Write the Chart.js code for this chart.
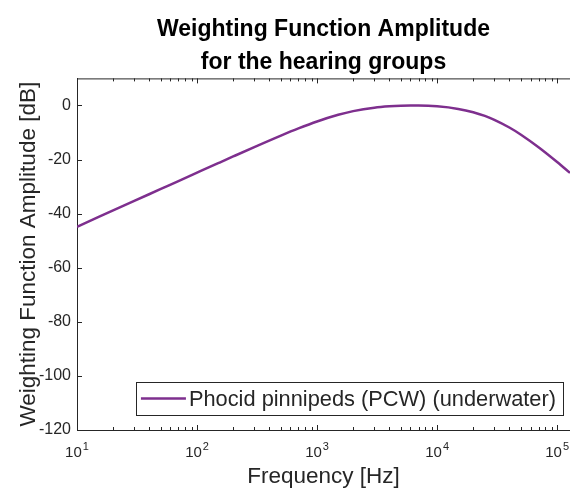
<!DOCTYPE html>
<html>
<head>
<meta charset="utf-8">
<script src="https://cdn.jsdelivr.net/npm/chart.js@4"></script>
<style>
  html, body { margin: 0; padding: 0; background: #fff; overflow: hidden; }
  #wrap { width: 570px; height: 490px; }
</style>
</head>
<body>
<div id="wrap"><canvas id="chart" width="570" height="490"></canvas></div>
<script>
// values (frequency in Hz, amplitude in dB)
const freqs = [10, 15, 20, 30, 50, 70, 100, 150, 200, 300, 500, 700, 1000, 1500, 2000,
  3000, 4000, 5000, 6000, 7000, 10000, 15000, 20000, 25000, 30000, 40000, 50000, 70000, 100000, 128000];
const amplitude = [-44.85, -41.32, -38.82, -35.30, -30.87, -27.95, -24.86, -21.35, -18.87, -15.41,
  -11.16, -8.50, -5.92, -3.45, -2.10, -0.82, -0.31, -0.09, -0.03, -0.04, -0.34, -1.28, -2.50, -3.88,
  -5.31, -8.15, -10.82, -15.46, -20.93, -24.94];
const xTicks = [10, 100, 1000, 10000, 100000];
const xTickExponents = ['1', '2', '3', '4', '5'];
const yTicks = [-120, -100, -80, -60, -40, -20, 0];
const seriesName = 'Phocid pinnipeds (PCW) (underwater)';

const ink = '#262626';
const purple = 'rgb(126,47,142)';
const fontFamily = '"Liberation Sans", Arial, Helvetica, sans-serif';

// inward ticks, top border, 10^n labels and the legend box drawn like matlab does
const matlabAxes = {
  id: 'matlabAxes',
  afterDraw(chart) {
    const ctx = chart.ctx;
    const a = chart.chartArea;
    const x = chart.scales.x, y = chart.scales.y;
    ctx.save();
    ctx.strokeStyle = ink;
    ctx.lineWidth = 1;
    ctx.beginPath();
    ctx.moveTo(a.left, a.top + 0.5);
    ctx.lineTo(a.right, a.top + 0.5);
    yTicks.forEach(v => {
      const py = Math.round(y.getPixelForValue(v)) + 0.5;
      ctx.moveTo(a.left, py);
      ctx.lineTo(a.left + 5, py);
    });
    for (let e = 1; e <= 5; e++) {
      for (let m = 1; m <= 9; m++) {
        const v = m * Math.pow(10, e);
        if (v > x.max) break;
        const px = Math.round(x.getPixelForValue(v)) + 0.5;
        const len = m === 1 ? 5 : 3;
        ctx.moveTo(px, a.bottom);
        ctx.lineTo(px, a.bottom - len);
        ctx.moveTo(px, a.top);
        ctx.lineTo(px, a.top + len);
      }
    }
    ctx.stroke();

    // x tick labels as 10 with a raised exponent
    ctx.fillStyle = ink;
    ctx.textAlign = 'left';
    ctx.textBaseline = 'alphabetic';
    xTicks.forEach((v, i) => {
      const px = x.getPixelForValue(v);
      ctx.font = '15px ' + fontFamily;
      const wBase = ctx.measureText('10').width;
      ctx.font = '11px ' + fontFamily;
      const wExp = ctx.measureText(xTickExponents[i]).width;
      const x0 = px - (wBase + 1 + wExp) / 2;
      ctx.font = '15px ' + fontFamily;
      ctx.fillText('10', x0, a.bottom + 27);
      ctx.font = '11px ' + fontFamily;
      ctx.fillText(xTickExponents[i], x0 + wBase + 1, a.bottom + 20);
    });

    // legend
    ctx.font = '21.8px ' + fontFamily;
    const tw = ctx.measureText(seriesName).width;
    const boxRight = a.right - 7;
    const textX = boxRight - 7 - tw;
    const lineX0 = textX - 48;
    const boxLeft = lineX0 - 5;
    const boxTop = a.bottom - 48;
    const boxH = 33;
    ctx.fillStyle = '#fff';
    ctx.fillRect(boxLeft, boxTop, boxRight - boxLeft, boxH);
    ctx.strokeRect(Math.round(boxLeft) + 0.5, boxTop + 0.5, Math.round(boxRight - boxLeft), boxH);
    const cy = boxTop + boxH / 2;
    ctx.strokeStyle = purple;
    ctx.lineWidth = 2.5;
    ctx.beginPath();
    ctx.moveTo(lineX0, cy);
    ctx.lineTo(textX - 3, cy);
    ctx.stroke();
    ctx.fillStyle = ink;
    ctx.textBaseline = 'middle';
    ctx.fillText(seriesName, textX, cy + 1);
    ctx.restore();
  }
};

new Chart(document.getElementById('chart'), {
  type: 'line',
  data: {
    labels: freqs,
    datasets: [{
      label: seriesName,
      data: freqs.map((f, i) => ({ x: f, y: amplitude[i] })),
      borderColor: purple,
      borderWidth: 2.5,
      pointRadius: 0,
      cubicInterpolationMode: 'monotone',
      fill: false
    }]
  },
  options: {
    responsive: false,
    animation: false,
    devicePixelRatio: 1,
    layout: { padding: 0 },
    plugins: {
      legend: { display: false },
      tooltip: { enabled: false },
      title: {
        display: true,
        fullSize: false,
        text: ['Weighting Function Amplitude', 'for the hearing groups'],
        color: '#000',
        font: { family: fontFamily, size: 23, weight: 'bold', lineHeight: 1.4 },
        padding: { top: 14, bottom: 0 }
      }
    },
    scales: {
      x: {
        type: 'logarithmic',
        min: 10,
        max: 128000,
        afterBuildTicks: s => { s.ticks = xTicks.map(v => ({ value: v })); },
        afterFit: s => { s.height = 60; },
        grid: { display: false, drawTicks: false },
        border: { display: true, color: ink, width: 1 },
        ticks: { display: false },
        title: {
          display: true,
          text: 'Frequency [Hz]',
          color: ink,
          font: { family: fontFamily, size: 22.5 },
          padding: { top: 0, bottom: 0 }
        }
      },
      y: {
        type: 'linear',
        min: -120,
        max: 10,
        afterBuildTicks: s => { s.ticks = yTicks.map(v => ({ value: v })); },
        afterFit: s => { s.width = 77; },
        grid: { display: false, drawTicks: false },
        border: { display: true, color: ink, width: 1 },
        ticks: {
          color: ink,
          font: { family: fontFamily, size: 16 },
          padding: 6
        },
        title: {
          display: true,
          text: 'Weighting Function Amplitude [dB]',
          color: ink,
          font: { family: fontFamily, size: 22.5 },
          padding: { top: 15, bottom: 0 }
        }
      }
    }
  },
  plugins: [matlabAxes]
});
</script>
</body>
</html>
